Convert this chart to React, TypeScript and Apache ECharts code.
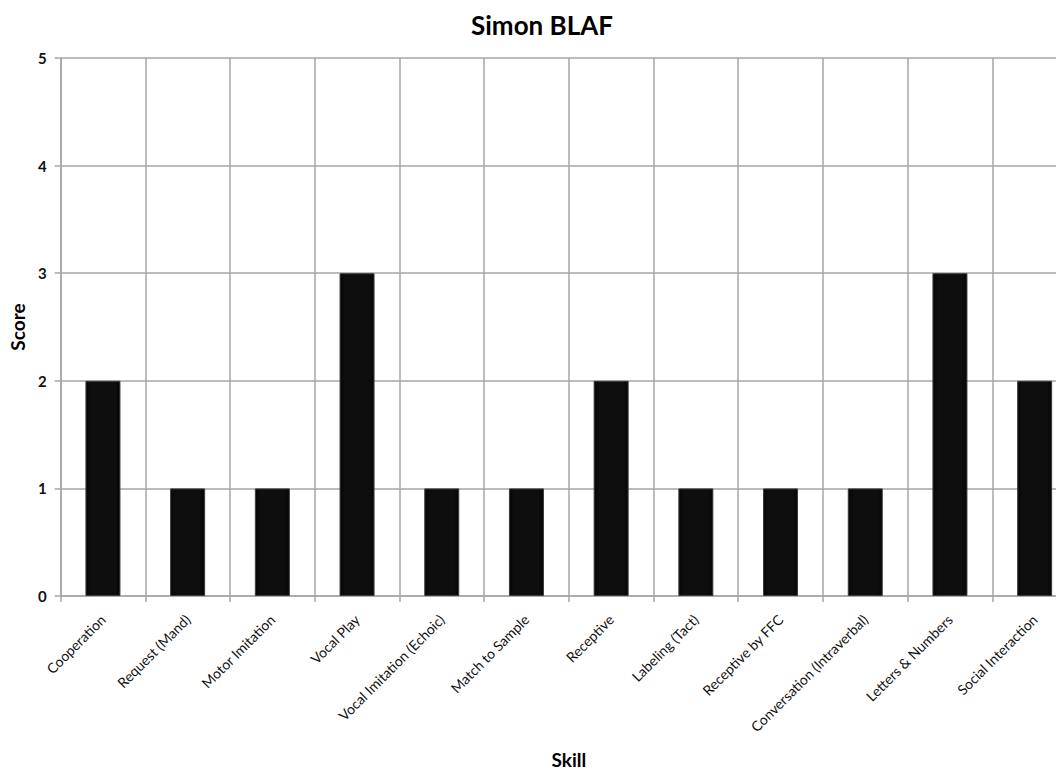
import React, { useEffect, useRef } from "react";
import * as echarts from "echarts";

const skills = [
  "Cooperation",
  "Request (Mand)",
  "Motor Imitation",
  "Vocal Play",
  "Vocal Imitation (Echoic)",
  "Match to Sample",
  "Receptive",
  "Labeling (Tact)",
  "Receptive by FFC",
  "Conversation (Intraverbal)",
  "Letters & Numbers",
  "Social Interaction",
];
const scores = [2, 1, 1, 3, 1, 1, 2, 1, 1, 1, 3, 2];

const FONT = "Lato, 'Open Sans', sans-serif";
const GRID = "#a6a6a6";

export default function App() {
  const ref = useRef<HTMLDivElement>(null);

  useEffect(() => {
    if (!ref.current) return;
    const chart = echarts.init(ref.current, null, { renderer: "svg" });
    chart.setOption({
      animation: false,
      backgroundColor: "#ffffff",
      title: {
        text: "Simon BLAF",
        left: 537,
        top: 7,
        textAlign: "center",
        textStyle: { fontFamily: FONT, fontWeight: "bold", fontSize: 26, color: "#000" },
      },
      // the plot runs a little past the right edge of the visible frame
      grid: { left: 58, top: 58, bottom: 179, right: 13, containLabel: false },
      xAxis: {
        type: "category",
        data: skills,
        name: "Skill",
        nameLocation: "middle",
        nameGap: 154,
        nameTextStyle: {
          fontFamily: FONT,
          fontWeight: "bold",
          fontSize: 19,
          color: "#000",
          verticalAlign: "top",
        },
        axisLine: { show: true, lineStyle: { color: GRID, width: 1.5 } },
        axisTick: { show: true, alignWithLabel: false, length: 6, lineStyle: { color: GRID, width: 1.5 } },
        axisLabel: {
          rotate: 45,
          interval: 0,
          margin: 21,
          fontFamily: FONT,
          fontSize: 14,
          color: "#111",
        },
        splitLine: { show: true, lineStyle: { color: GRID, width: 1.5 } },
      },
      yAxis: {
        type: "value",
        min: 0,
        max: 5,
        interval: 1,
        name: "Score",
        nameLocation: "middle",
        nameGap: 29,
        nameRotate: 90,
        nameTextStyle: { fontFamily: FONT, fontWeight: "bold", fontSize: 19, color: "#000" },
        axisLine: { show: true, lineStyle: { color: GRID, width: 1.5 } },
        axisTick: { show: true, length: 6, lineStyle: { color: GRID, width: 1.5 } },
        axisLabel: { fontFamily: FONT, fontWeight: "bold", fontSize: 15, color: "#111", margin: 14 },
        splitLine: { show: true, lineStyle: { color: GRID, width: 1.5 } },
      },
      series: [
        {
          type: "bar",
          data: scores,
          barWidth: 35,
          itemStyle: {
            color: new echarts.graphic.LinearGradient(0, 0, 1, 0, [
              { offset: 0, color: "#050505" },
              { offset: 0.15, color: "#0e0e0e" },
              { offset: 0.85, color: "#0e0e0e" },
              { offset: 1, color: "#050505" },
            ]),
            borderColor: "#3c3c3c",
            borderWidth: 1,
          },
        },
      ],
    });
    return () => chart.dispose();
  }, []);

  return (
    <div style={{ width: 1064, height: 775, overflow: "hidden", margin: -8 }}>
      <div ref={ref} style={{ width: 1090, height: 775 }} />
    </div>
  );
}
